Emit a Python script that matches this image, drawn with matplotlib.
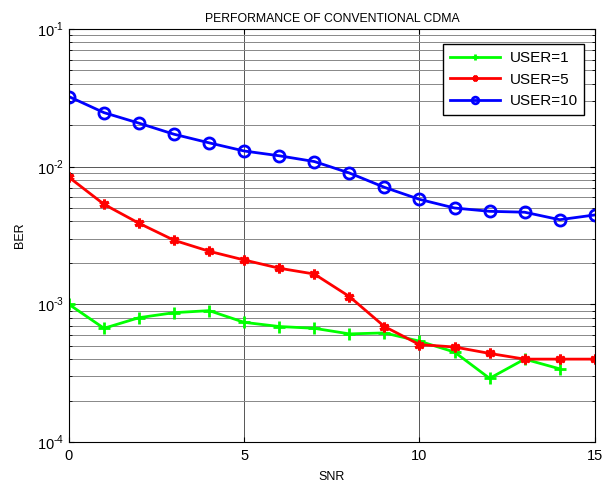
import numpy as np
import matplotlib.pyplot as plt

plt.rcParams['font.family'] = ['Liberation Sans', 'DejaVu Sans']
plt.rcParams['mathtext.fontset'] = 'custom'
plt.rcParams['mathtext.rm'] = 'Liberation Sans'

snr = list(range(16))
ber_user1 = [0.00100, 0.00067, 0.00080, 0.00087, 0.00090, 0.00074, 0.00069, 0.00067,
             0.00061, 0.00062, 0.00054, 0.00045, 0.00029, 0.00040, 0.00034]
ber_user5 = [0.00838, 0.00533, 0.00388, 0.00292, 0.00243, 0.00210, 0.00183, 0.00166,
             0.00114, 0.00069, 0.00051, 0.00049, 0.00044, 0.00040, 0.00040, 0.00040]
ber_user10 = [0.0323, 0.0247, 0.0207, 0.0172, 0.0149, 0.0130, 0.0120, 0.0109,
              0.0090, 0.00708, 0.00579, 0.00501, 0.00474, 0.00467, 0.00412, 0.00446]
ytick_vals = [1e-4, 1e-3, 1e-2, 1e-1]
ytick_labels = ['$10^{\\text{-}4}$', '$10^{\\text{-}3}$', '$10^{\\text{-}2}$', '$10^{\\text{-}1}$']

fig = plt.figure(figsize=(6.10, 4.87), dpi=100)
ax = fig.add_axes([0.113, 0.0924, 0.862, 0.848])

ax.semilogy(snr[:len(ber_user1)], ber_user1, color='#00ff00', lw=2, marker='+',
            ms=8, mew=2, label='USER=1')
ax.semilogy(snr, ber_user5, color='red', lw=2, marker=(6, 2, 0),
            ms=7, mew=2.2, label='USER=5')
ax.semilogy(snr, ber_user10, color='blue', lw=2, marker='o', mfc='none',
            ms=8, mew=2, label='USER=10')

ax.set_xlim(0, 15)
ax.set_ylim(1e-4, 1e-1)
ax.set_xticks([0, 5, 10, 15])
ax.set_yticks(ytick_vals)
ax.set_yticklabels(ytick_labels)
ax.grid(True, which='major', color='#555555', lw=0.7)
ax.grid(True, which='minor', axis='y', color='#888888', lw=0.7)
ax.tick_params(which='both', direction='in', labelsize=10.5, top=True, right=True)
ax.tick_params(axis='x', pad=5)

ax.set_title('PERFORMANCE OF CONVENTIONAL CDMA', fontsize=8.8, pad=5)
ax.set_xlabel('SNR', fontsize=9, labelpad=6)
ax.set_ylabel('BER', fontsize=9, labelpad=8)

leg = ax.legend(loc='upper right', bbox_to_anchor=(0.995, 0.982), fontsize=11,
                fancybox=False, framealpha=1, edgecolor='black', markerscale=0.6,
                handlelength=3.3, borderpad=0.45, labelspacing=0.5, handletextpad=0.6)
leg.get_frame().set_linewidth(1.0)

fig.savefig('out.png', dpi=100)
